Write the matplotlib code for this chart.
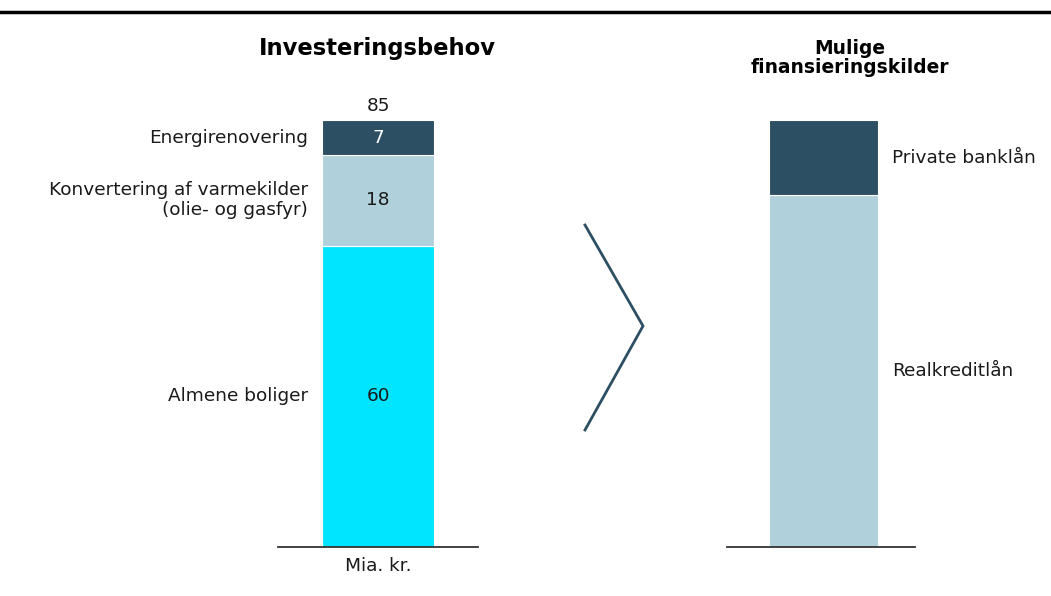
import matplotlib
matplotlib.use("Agg")
import matplotlib.pyplot as plt
from matplotlib.lines import Line2D

# ---- data ----
need_labels = ["Almene boliger", "Konvertering af varmekilder\n(olie- og gasfyr)", "Energirenovering"]
need_values = [60, 18, 7]
need_value_text = ["60", "18", "7"]
fin_labels = ["Realkreditlån", "Private banklån"]
fin_values = [70, 15]
title_left = "Investeringsbehov"
title_right = "Mulige\nfinansieringskilder"
unit_label = "Mia. kr."

DARK = "#2C4F63"
LIGHT = "#B0D1DC"
CYAN = "#00E5FF"
need_colors = [CYAN, LIGHT, DARK]
need_text_colors = ["#1a1a1a", "#1a1a1a", "white"]
fin_colors = [LIGHT, DARK]

W, H = 1051, 596
fig = plt.figure(figsize=(W / 100, H / 100), dpi=100)
LABEL_FONT = ["DejaVu Sans"]
TITLE_FONT = ["DejaVu Sans"]
FS = 13.3

def fx(px):
    return px / W

def fy(py):
    return 1 - py / H

px_per_unit = (547 - 120) / 85.0
ymax = 100
ax_h_px = ymax * px_per_unit

# top rule
fig.add_artist(Line2D([0, 1], [fy(12), fy(12)], color="black", lw=2.5))

# left axes
axL = fig.add_axes([fx(278), fy(547), fx(200), ax_h_px / H])
axL.set_xlim(-0.9, 0.9)
axL.set_ylim(0, ymax)
bottom = 0
for v, c, t, tc, lab in zip(need_values, need_colors, need_value_text, need_text_colors, need_labels):
    axL.bar(0, v, bottom=bottom, width=1.0, color=c, edgecolor="white", linewidth=0.8)
    axL.text(0, bottom + v / 2, t, ha="center", va="center", color=tc, fontsize=FS, family=LABEL_FONT)
    axL.text(-0.63, bottom + v / 2, lab, ha="right", va="center", color="#1a1a1a",
             fontsize=FS, family=LABEL_FONT, linespacing=1.15)
    bottom += v
axL.text(0, bottom + 1.0, str(sum(need_values)), ha="center", va="bottom", color="#1a1a1a",
         fontsize=FS, family=LABEL_FONT)
axL.text(0, -2.0, unit_label, ha="center", va="top", color="#1a1a1a", fontsize=FS, family=LABEL_FONT)

# right axes
axR = fig.add_axes([fx(727), fy(547), fx(188), ax_h_px / H])
axR.set_xlim(-96.5 / 109, 91.5 / 109)
axR.set_ylim(0, ymax)
bottom = 0
for v, c, lab in zip(fin_values, fin_colors, fin_labels):
    axR.bar(0, v, bottom=bottom, width=1.0, color=c, edgecolor="white", linewidth=0.8)
    axR.text(0.63, bottom + v / 2, lab, ha="left", va="center", color="#1a1a1a",
             fontsize=FS, family=LABEL_FONT)
    bottom += v

for ax in (axL, axR):
    for s in ("top", "left", "right"):
        ax.spines[s].set_visible(False)
    ax.spines["bottom"].set_color("#333333")
    ax.spines["bottom"].set_linewidth(1.3)
    ax.set_xticks([])
    ax.set_yticks([])
    ax.patch.set_alpha(0)

# titles
fig.text(fx(377), fy(48), title_left, ha="center", va="center", fontsize=16.3,
         fontweight="heavy", family=TITLE_FONT)
fig.text(fx(850), fy(58), title_right, ha="center", va="center", fontsize=13.4,
         fontweight="heavy", family=TITLE_FONT, linespacing=1.05)

# chevron
fig.add_artist(Line2D([fx(585), fx(643), fx(585)], [fy(225), fy(326), fy(430)],
                      color=DARK, lw=2.0, solid_joinstyle="miter"))

fig.savefig("out.png", dpi=100)
